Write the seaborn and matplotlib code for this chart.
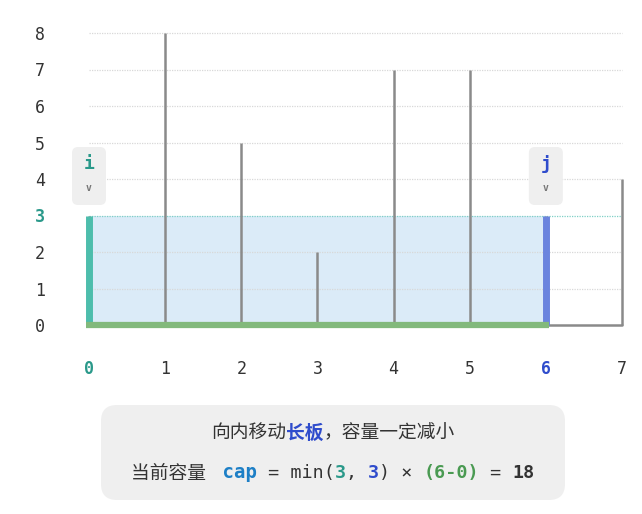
import matplotlib
matplotlib.use("Agg")
import matplotlib.pyplot as plt
import seaborn as sns
import pandas as pd
from matplotlib.patches import FancyBboxPatch, Rectangle
from matplotlib.transforms import IdentityTransform
from matplotlib.offsetbox import TextArea, HPacker, AnnotationBbox

# ---- data ----
positions = [0, 1, 2, 3, 4, 5, 6, 7]
heights = [3, 8, 5, 2, 7, 7, 3, 4]
i_idx = 0
j_idx = 6
y_ticks = [0, 1, 2, 3, 4, 5, 6, 7, 8]
x_ticks = [0, 1, 2, 3, 4, 5, 6, 7]
cap_height = min(heights[i_idx], heights[j_idx])
cap_value = cap_height * (j_idx - i_idx)

sns.set_theme(style="white")
plt.rcParams['font.family'] = ['DejaVu Sans Mono', 'Noto Sans CJK SC']

MONO = ['DejaVu Sans Mono', 'Noto Sans CJK SC']
CJK = ['Noto Sans CJK SC', 'DejaVu Sans']
DARK = '#333333'
GRAY = '#8a8a8a'
TEAL_BAR = '#4dbdac'
TEAL_TXT = '#2a998a'
BLUE_BAR = '#6b84de'
BLUE_TXT = '#2f4ccc'
GREEN = '#82b97c'
GREEN_TXT = '#4a9a52'
CAP_BLUE = '#1d7fc6'
FILL = '#dbebf8'

fig = plt.figure(figsize=(6.42, 5.14), dpi=100)
ax = fig.add_axes([89 / 642, (514 - 325) / 514, 533 / 642, 292 / 514])
ax.set_xlim(0, 7)
ax.set_ylim(0, 8)
for s in ax.spines.values():
    s.set_visible(False)

# grid lines
for yv in y_ticks[1:]:
    if yv == cap_height:
        continue
    ax.plot([x_ticks[0], x_ticks[-1]], [yv, yv], color='#d8d8d8', lw=0.9,
            ls=(0, (1, 1)), zorder=1, clip_on=False)

# container fill
ax.add_patch(Rectangle((i_idx, 0), j_idx - i_idx, cap_height, facecolor=FILL,
                       edgecolor='none', zorder=0.5))
ax.plot([x_ticks[0], x_ticks[-1]], [cap_height, cap_height], color='#7fd0c6', lw=0.9,
        ls=(0, (1, 1)), zorder=1.5, clip_on=False)

# walls
df = pd.DataFrame({"pos": positions, "h": heights})
ax.vlines(df["pos"], 0, df["h"], color=GRAY, lw=1.8, zorder=2, clip_on=False)
sns.lineplot(x=[x_ticks[0], x_ticks[-1]], y=[0, 0], ax=ax, color=GRAY, lw=1.8,
             zorder=2, clip_on=False)
# highlighted walls and bottom
ax.vlines([i_idx], 0, heights[i_idx], color=TEAL_BAR, lw=5, zorder=3, clip_on=False)
ax.vlines([j_idx], 0, heights[j_idx], color=BLUE_BAR, lw=5, zorder=3, clip_on=False)
ax.plot([i_idx - 0.035, j_idx + 0.035], [0, 0], color=GREEN, lw=4.5,
        solid_capstyle='butt', zorder=4, clip_on=False)

# ticks
ax.set_yticks(y_ticks)
ax.set_yticklabels([str(v) for v in y_ticks], fontsize=12, color=DARK, family=MONO)
ax.set_xticks(x_ticks)
ax.set_xticklabels([str(v) for v in x_ticks], fontsize=12, color=DARK, family=MONO)
ax.tick_params(axis='y', length=0, pad=31.5)
ax.tick_params(axis='x', length=0, pad=25.5)
for lab in ax.get_yticklabels():
    if lab.get_text() == str(cap_height):
        lab.set_color(TEAL_TXT)
        lab.set_fontweight('bold')
for lab in ax.get_xticklabels():
    if lab.get_text() == str(i_idx):
        lab.set_color(TEAL_TXT)
        lab.set_fontweight('bold')
    elif lab.get_text() == str(j_idx):
        lab.set_color(BLUE_TXT)
        lab.set_fontweight('bold')

# pointer boxes i / j
fig.canvas.draw()
for idx, name, col in [(i_idx, 'i', TEAL_TXT), (j_idx, 'j', BLUE_TXT)]:
    cx, _ = ax.transData.transform((idx, 0))
    top = 514 - 147
    bot = 514 - 205
    w = 34
    box = FancyBboxPatch((cx - w / 2 + 4, bot + 4), w - 8, (top - bot) - 8,
                         boxstyle='round,pad=4,rounding_size=6',
                         facecolor='#efefef', edgecolor='none',
                         transform=IdentityTransform(), zorder=5)
    fig.add_artist(box)
    fig.text(cx / 642, (514 - 164) / 514, name, ha='center', va='center',
             fontsize=13, fontweight='bold', color=col, family=MONO, zorder=6)
    fig.text(cx / 642, (514 - 188) / 514, 'v', ha='center', va='center',
             fontsize=7, fontweight='bold', color='#777777', family=MONO, zorder=6)

# bottom info box
bx0, bx1 = 101, 565
by0, by1 = 514 - 500, 514 - 405
info = FancyBboxPatch((bx0 + 14, by0 + 14), bx1 - bx0 - 28, by1 - by0 - 28,
                      boxstyle='round,pad=14,rounding_size=16',
                      facecolor='#efefef', edgecolor='none',
                      transform=IdentityTransform(), zorder=0)
fig.add_artist(info)

def packed_line(parts, yfrac):
    children = []
    for text, props in parts:
        children.append(TextArea(text, textprops=props))
    pack = HPacker(children=children, align='baseline', pad=0, sep=0)
    ab = AnnotationBbox(pack, (333 / 642, yfrac), xycoords='figure fraction',
                        frameon=False, box_alignment=(0.5, 0.5), zorder=3)
    fig.add_artist(ab)

cjk_n = dict(family=CJK, fontsize=13.5, color=DARK)
cjk_b = dict(family=CJK, fontsize=13.5, color=BLUE_TXT, fontweight='bold')
packed_line([("向内移动", cjk_n), ("长板", cjk_b), ("，容量一定减小", cjk_n)],
            (514 - 433) / 514)

fs = 13.2
m_n = dict(family=MONO, fontsize=fs, color=DARK)
packed_line([
    ("当前容量 ", dict(family=CJK, fontsize=13.5, color=DARK)),
    (" cap", dict(family=MONO, fontsize=fs + 0.5, color=CAP_BLUE, fontweight='bold')),
    (" = min(", m_n),
    (str(heights[i_idx]), dict(family=MONO, fontsize=fs, color=TEAL_TXT, fontweight='bold')),
    (", ", m_n),
    (str(heights[j_idx]), dict(family=MONO, fontsize=fs, color=BLUE_TXT, fontweight='bold')),
    (") × ", m_n),
    (f"({j_idx}-{i_idx})", dict(family=MONO, fontsize=fs, color=GREEN_TXT, fontweight='bold')),
    (" = ", m_n),
    (str(cap_value), dict(family=MONO, fontsize=fs, color=DARK, fontweight='bold')),
], (514 - 473) / 514)

fig.savefig("out.png", dpi=100)
